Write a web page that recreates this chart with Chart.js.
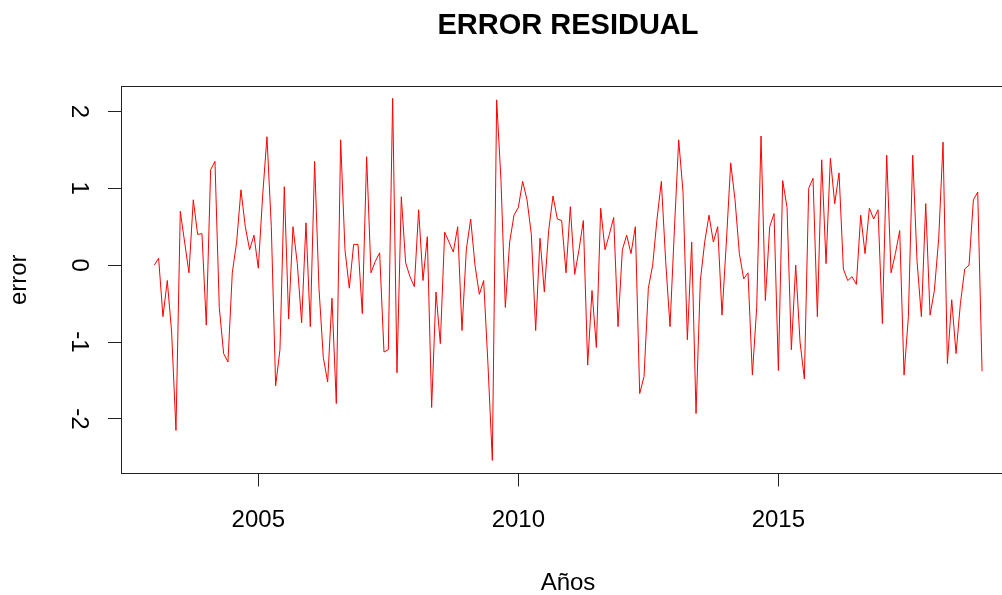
<!DOCTYPE html>
<html>
<head>
<meta charset="utf-8">
<title>ERROR RESIDUAL</title>
<script src="https://cdn.jsdelivr.net/npm/chart.js@4.4.1/dist/chart.umd.min.js"></script>
<style>
  html, body { margin: 0; padding: 0; background: #fff; overflow: hidden; }
  #wrap { width: 1002px; height: 595px; overflow: hidden; }
  #chart { display: block; }
</style>
</head>
<body>
<div id="wrap"><canvas id="chart" width="1016" height="595"></canvas></div>
<script>
// serie mensual, comienza en enero de 2003
const startYear = 2003;
const errorValues = [
  0.0, 0.09, -0.67, -0.2, -0.87, -2.15, 0.7, 0.3, -0.1, 0.85, 0.4, 0.41,      // 2003
  -0.78, 1.24, 1.35, -0.55, -1.15, -1.26, -0.1, 0.3, 0.98, 0.5, 0.2, 0.39,    // 2004
  -0.04, 0.9, 1.67, 0.5, -1.57, -1.1, 1.02, -0.7, 0.5, 0.02, -0.75, 0.55,     // 2005
  -0.8, 1.35, -0.3, -1.2, -1.52, -0.43, -1.8, 1.63, 0.2, -0.3, 0.27, 0.27,    // 2006
  -0.63, 1.41, -0.1, 0.05, 0.16, -1.13, -1.1, 2.17, -1.4, 0.89, 0.03, -0.15,  // 2007
  -0.28, 0.72, -0.2, 0.37, -1.85, -0.35, -1.02, 0.43, 0.3, 0.17, 0.5, -0.85,  // 2008
  0.2, 0.6, 0.0, -0.38, -0.2, -1.3, -2.54, 2.15, 1.1, -0.55, 0.3, 0.65,       // 2009
  0.75, 1.09, 0.85, 0.4, -0.85, 0.35, -0.35, 0.45, 0.9, 0.6, 0.58, -0.1,      // 2010
  0.76, -0.12, 0.2, 0.58, -1.3, -0.33, -1.07, 0.74, 0.2, 0.4, 0.62, -0.8,     // 2011
  0.2, 0.39, 0.15, 0.5, -1.67, -1.45, -0.3, 0.0, 0.6, 1.09, 0.05, -0.8,       // 2012
  0.45, 1.63, 0.95, -0.97, 0.3, -1.93, -0.2, 0.3, 0.65, 0.3, 0.5, -0.65,      // 2013
  0.3, 1.33, 0.85, 0.15, -0.18, -0.1, -1.43, -0.55, 1.68, -0.46, 0.5, 0.67,   // 2014
  -1.37, 1.1, 0.75, -1.1, 0.0, -1.0, -1.48, 1.0, 1.13, -0.67, 1.37, 0.02,     // 2015
  1.39, 0.8, 1.2, -0.05, -0.2, -0.15, -0.25, 0.65, 0.15, 0.74, 0.6, 0.72,     // 2016
  -0.76, 1.43, -0.1, 0.15, 0.45, -1.43, -0.67, 1.43, 0.05, -0.67, 0.8, -0.65, // 2017
  -0.33, 0.35, 1.6, -1.28, -0.45, -1.15, -0.5, -0.05, 0.0, 0.85, 0.95, -1.38  // 2018
];
const xTicks = [2005, 2010, 2015];
const yTicks = [-2, -1, 0, 1, 2];

const fontFamily = '"Liberation Sans", Arial, sans-serif';

// x = año decimal de cada mes
const points = errorValues.map((v, i) => ({ x: startYear + i / 12, y: v }));

// caja alrededor del area del grafico (como bty="o" en R)
const framePlugin = {
  id: 'frame',
  afterDraw(chart) {
    const { ctx, chartArea } = chart;
    const l = Math.floor(chartArea.left) + 0.5;
    const t = Math.floor(chartArea.top) + 0.5;
    const r = Math.floor(chartArea.right) + 0.5;
    const b = Math.floor(chartArea.bottom) + 0.5;
    ctx.save();
    ctx.strokeStyle = '#222';
    ctx.lineWidth = 1;
    ctx.strokeRect(l, t, r - l, b - t);
    ctx.restore();
  }
};

const config = {
  type: 'line',
  data: {
    datasets: [{
      data: points,
      borderColor: '#ff0000',
      borderWidth: 1,
      pointRadius: 0,
      tension: 0,
      fill: false
    }]
  },
  options: {
    responsive: false,
    animation: false,
    layout: { padding: { left: 0, right: 1, top: 0, bottom: 0 } },
    plugins: {
      legend: { display: false },
      tooltip: { enabled: false },
      title: {
        display: true,
        text: 'ERROR RESIDUAL',
        fullSize: false,
        color: '#000',
        font: { family: fontFamily, size: 29, weight: 'bold', lineHeight: 1.2 },
        padding: { top: 8.5, bottom: 42.7 }
      }
    },
    scales: {
      x: {
        type: 'linear',
        min: 2002.36,
        max: 2019.55,
        afterBuildTicks: (scale) => { scale.ticks = xTicks.map(v => ({ value: v })); },
        afterFit: (scale) => { scale.height = 121.5; },
        grid: { drawOnChartArea: false, drawTicks: true, tickLength: 13, color: '#222' },
        border: { display: true, color: '#222', width: 1 },
        ticks: {
          color: '#000',
          font: { family: fontFamily, size: 24 },
          padding: 19,
          maxRotation: 0,
          autoSkip: false,
          callback: (v) => String(v)
        },
        title: {
          display: true,
          text: 'Años',
          color: '#000',
          font: { family: fontFamily, size: 24, lineHeight: 1 },
          padding: 0
        }
      },
      y: {
        min: -2.71,
        max: 2.33,
        afterBuildTicks: (scale) => { scale.ticks = yTicks.map(v => ({ value: v })); },
        afterFit: (scale) => { scale.width = 121; },
        grid: { drawOnChartArea: false, drawTicks: true, tickLength: 13, color: '#222' },
        border: { display: true, color: '#222', width: 1 },
        ticks: {
          color: '#000',
          font: { family: fontFamily, size: 24 },
          padding: 19,
          minRotation: -90,
          maxRotation: -90,
          crossAlign: 'center',
          callback: (v) => String(v)
        },
        title: {
          display: true,
          text: 'error',
          color: '#000',
          font: { family: fontFamily, size: 24, lineHeight: 1.2 },
          padding: { top: 5, bottom: 0 }
        }
      }
    }
  },
  plugins: [framePlugin]
};

const myChart = new Chart(document.getElementById('chart'), config);
</script>
</body>
</html>
